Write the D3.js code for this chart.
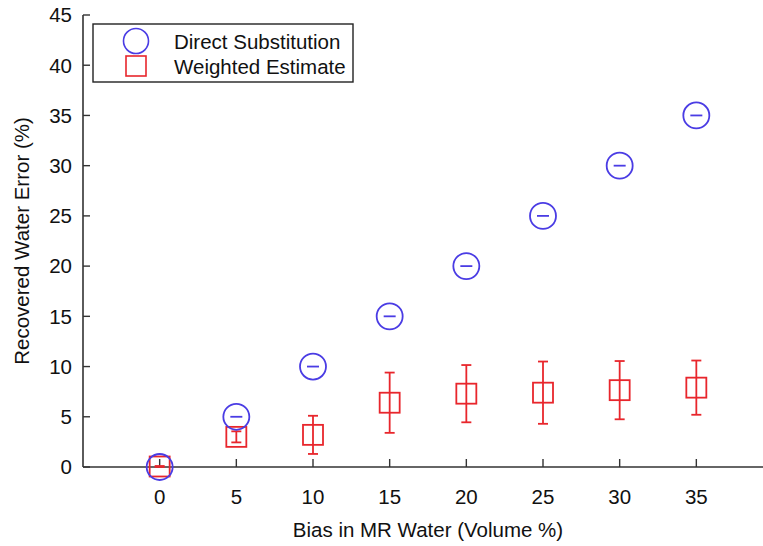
<!DOCTYPE html>
<html>
<head>
<meta charset="utf-8">
<script src="https://cdn.jsdelivr.net/npm/d3@7"></script>
<style>
  body { margin: 0; background: #fff; }
  text { font-family: "Liberation Sans", Arial, sans-serif; fill: #111; }
</style>
</head>
<body>
<div class="chart"></div>
<script>
var width = 763
var height = 546

// data
const bias = [0, 5, 10, 15, 20, 25, 30, 35]
const direct = [0, 5, 10, 15, 20, 25, 30, 35]
const directErr = [0, 0, 0, 0, 0, 0, 0, 0]
const weighted = [0.05, 3.0, 3.2, 6.4, 7.3, 7.4, 7.65, 7.9]
const weightedErr = [0.05, 0.55, 1.9, 3.0, 2.85, 3.1, 2.9, 2.7]
const xTicks = [0, 5, 10, 15, 20, 25, 30, 35]
const yTicks = [0, 5, 10, 15, 20, 25, 30, 35, 40, 45]

const blue = "#4a3ce4"
const red = "#e8262c"

var svg = d3.select(".chart")
  .append("svg")
  .attr("width", width)
  .attr("height", height)

var x = d3.scaleLinear().domain([-5, 40]).range([83, 773])
var y = d3.scaleLinear().domain([0, 45]).range([467, 15])

// axes
svg.append("line")
  .attr("x1", x(-5)).attr("x2", x(-5))
  .attr("y1", y(45)).attr("y2", y(0))
  .attr("stroke", "#333").attr("stroke-width", 1.6)
svg.append("line")
  .attr("x1", x(-5)).attr("x2", x(40))
  .attr("y1", y(0)).attr("y2", y(0))
  .attr("stroke", "#333").attr("stroke-width", 1.6)

svg.selectAll(".ytick")
  .data(yTicks)
  .enter()
  .append("line")
  .attr("x1", x(-5)).attr("x2", x(-5) + 7)
  .attr("y1", d => y(d)).attr("y2", d => y(d))
  .attr("stroke", "#333").attr("stroke-width", 1.4)

svg.selectAll(".ylab")
  .data(yTicks)
  .enter()
  .append("text")
  .attr("x", 72)
  .attr("y", d => y(d))
  .attr("dy", "0.36em")
  .attr("text-anchor", "end")
  .attr("font-size", 20.5)
  .text(d => d)

svg.selectAll(".xtick")
  .data(xTicks)
  .enter()
  .append("line")
  .attr("x1", d => x(d)).attr("x2", d => x(d))
  .attr("y1", y(0)).attr("y2", y(0) - 8)
  .attr("stroke", "#333").attr("stroke-width", 1.4)

svg.selectAll(".xlab")
  .data(xTicks)
  .enter()
  .append("text")
  .attr("x", d => x(d))
  .attr("y", 504)
  .attr("text-anchor", "middle")
  .attr("font-size", 20.5)
  .text(d => d)

svg.append("text")
  .attr("x", (x(-5) + x(40)) / 2)
  .attr("y", 537)
  .attr("text-anchor", "middle")
  .attr("font-size", 20.5)
  .text("Bias in MR Water (Volume %)")

svg.append("text")
  .attr("transform", "translate(29," + ((y(0) + y(45)) / 2) + ") rotate(-90)")
  .attr("text-anchor", "middle")
  .attr("font-size", 20.5)
  .text("Recovered Water Error (%)")

// weighted estimate: error bars + squares
var wData = bias.map((b, i) => ({x: b, v: weighted[i], e: weightedErr[i]}))
var wG = svg.append("g").attr("stroke", red).attr("stroke-width", 1.8).attr("fill", "none")
wG.selectAll(".wbar")
  .data(wData)
  .enter()
  .append("line")
  .attr("x1", d => x(d.x)).attr("x2", d => x(d.x))
  .attr("y1", d => y(d.v - d.e)).attr("y2", d => y(d.v + d.e))
wG.selectAll(".wcapt")
  .data(wData)
  .enter()
  .append("line")
  .attr("x1", d => x(d.x) - 5).attr("x2", d => x(d.x) + 5)
  .attr("y1", d => y(d.v + d.e)).attr("y2", d => y(d.v + d.e))
wG.selectAll(".wcapb")
  .data(wData)
  .enter()
  .append("line")
  .attr("x1", d => x(d.x) - 5).attr("x2", d => x(d.x) + 5)
  .attr("y1", d => y(d.v - d.e)).attr("y2", d => y(d.v - d.e))
wG.selectAll("rect")
  .data(wData)
  .enter()
  .append("rect")
  .attr("x", d => x(d.x) - 10)
  .attr("y", d => y(d.v) - 10)
  .attr("width", 20)
  .attr("height", 20)

// direct substitution: circles + (zero length) error bars
var dData = bias.map((b, i) => ({x: b, v: direct[i], e: directErr[i]}))
var dG = svg.append("g").attr("stroke", blue).attr("stroke-width", 1.8).attr("fill", "none")
dG.selectAll("circle")
  .data(dData)
  .enter()
  .append("circle")
  .attr("cx", d => x(d.x))
  .attr("cy", d => y(d.v))
  .attr("r", 13)
dG.selectAll(".dcap")
  .data(dData.filter(d => d.x > 0))
  .enter()
  .append("line")
  .attr("x1", d => x(d.x) - 6).attr("x2", d => x(d.x) + 6)
  .attr("y1", d => y(d.v + d.e)).attr("y2", d => y(d.v - d.e))
  .attr("stroke-width", 1.8)

// legend
var lg = svg.append("g")
lg.append("rect")
  .attr("x", 93).attr("y", 24)
  .attr("width", 260).attr("height", 58)
  .attr("fill", "#fff").attr("stroke", "#222").attr("stroke-width", 1.4)
lg.append("circle")
  .attr("cx", 136).attr("cy", 41).attr("r", 12.5)
  .attr("fill", "none").attr("stroke", blue).attr("stroke-width", 1.6)
lg.append("rect")
  .attr("x", 126).attr("y", 56).attr("width", 20).attr("height", 20)
  .attr("fill", "none").attr("stroke", red).attr("stroke-width", 1.6)
lg.append("text")
  .attr("x", 174).attr("y", 49)
  .attr("font-size", 20.5)
  .text("Direct Substitution")
lg.append("text")
  .attr("x", 174).attr("y", 74)
  .attr("font-size", 20.5)
  .text("Weighted Estimate")
</script>
</body>
</html>
